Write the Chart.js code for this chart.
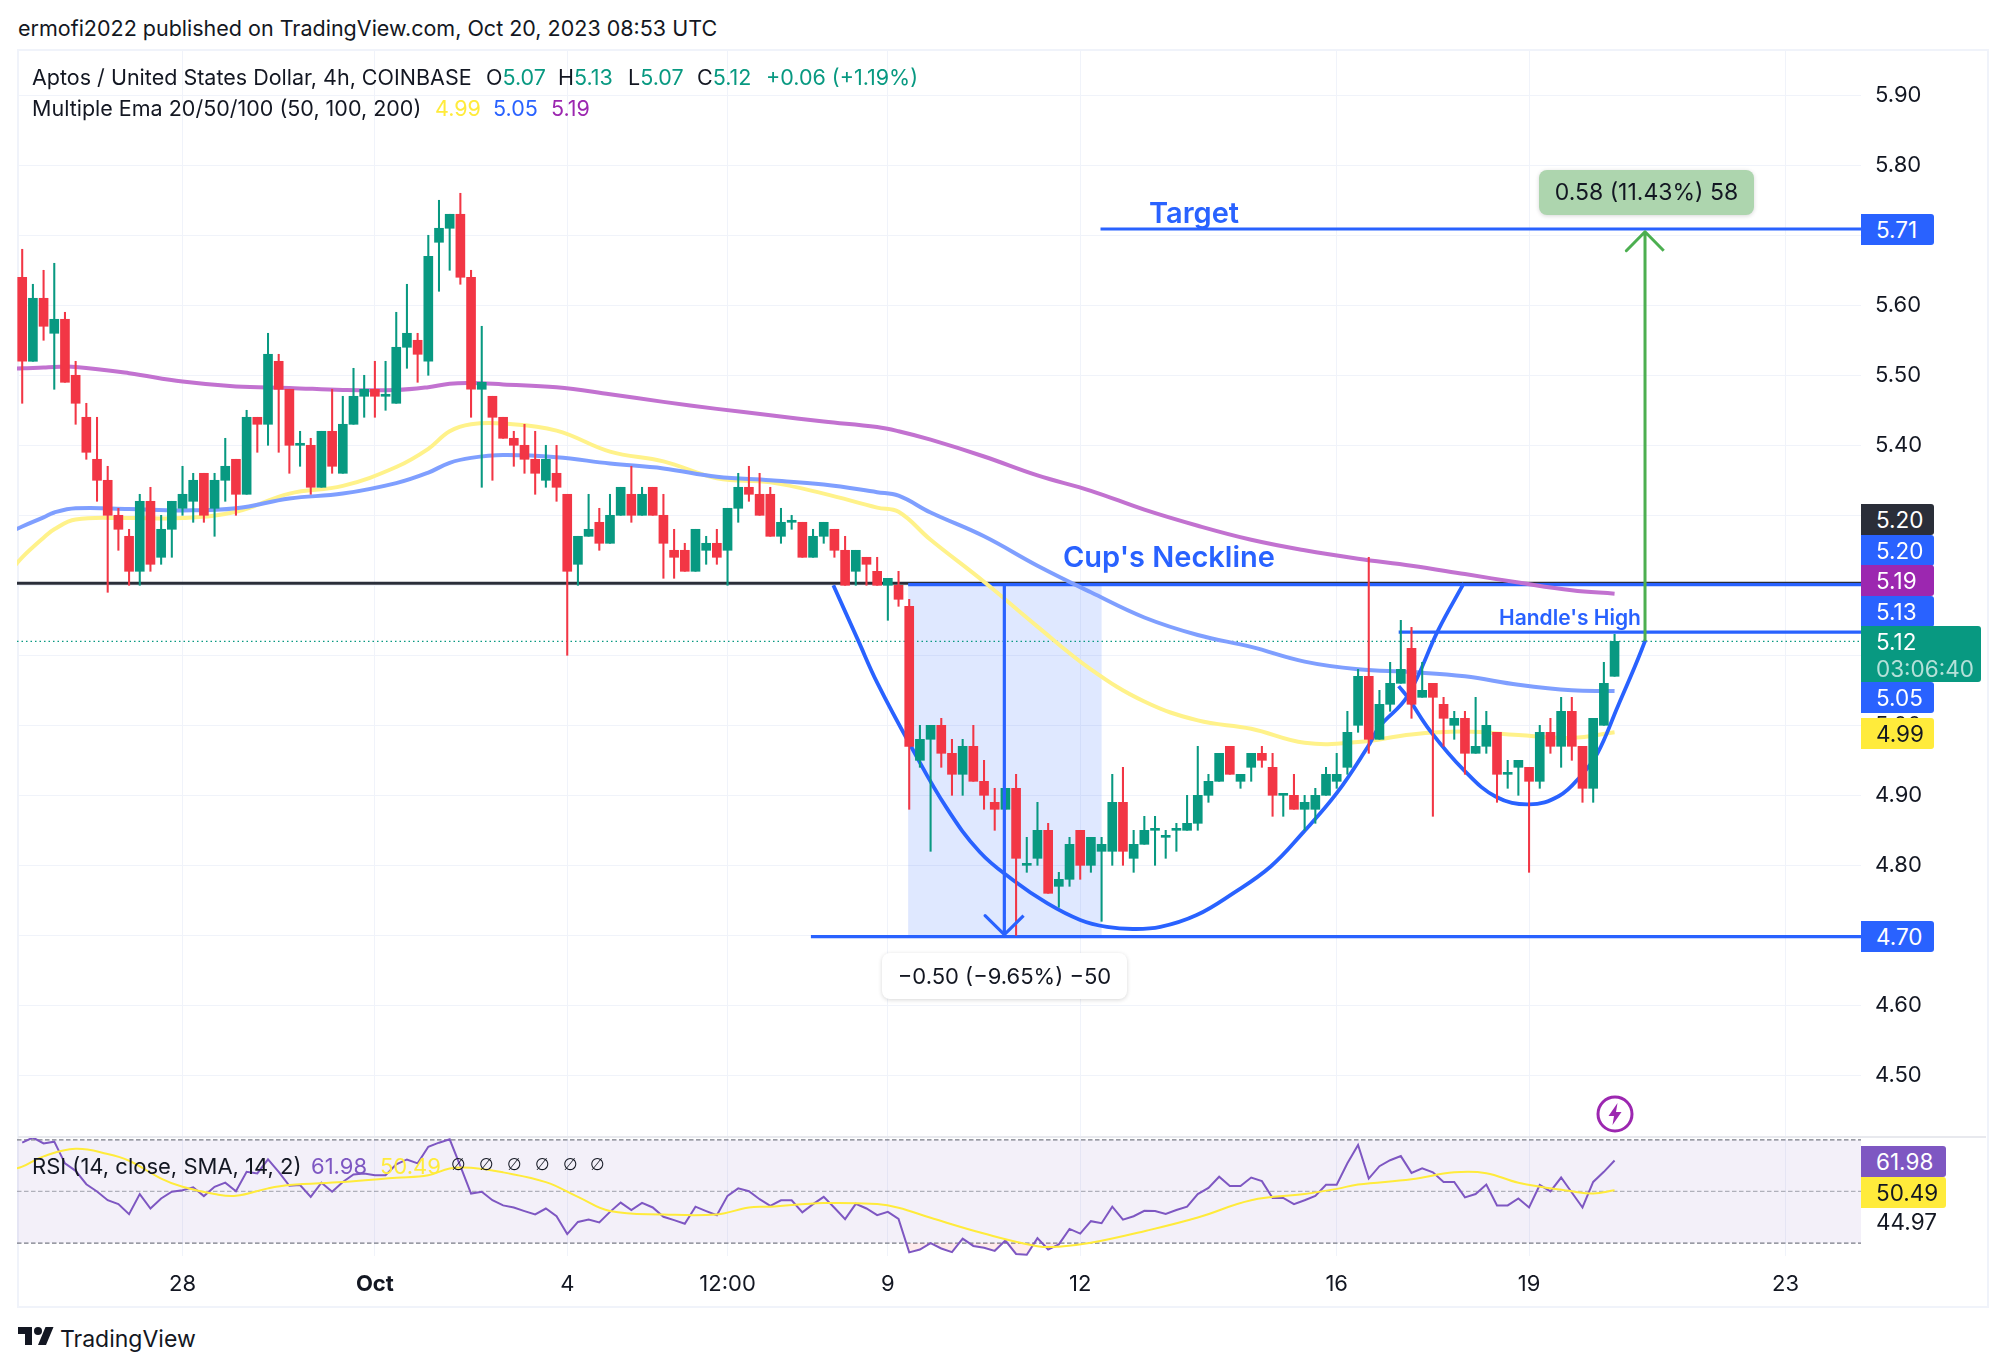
<!DOCTYPE html>
<html>
<head>
<meta charset="utf-8">
<title>Aptos / United States Dollar</title>
<script src="https://cdn.jsdelivr.net/npm/chart.js@4"></script>
<style>
    html, body { margin: 0; padding: 0; background: #fff; }
    body { width: 2004px; height: 1369px; position: relative; overflow: hidden; font-family: Inter, sans-serif; color: #131722; }
    .abs { position: absolute; white-space: nowrap; line-height: 1; }
    #frame { position: absolute; left: 17px; top: 49px; width: 1968px; height: 1255px; border: 2px solid #f0f3fa; }
    #sep { position: absolute; left: 18px; top: 1136px; width: 1968px; height: 2px; background: #e8e9ee; }
    #priceBox { position: absolute; left: 17px; top: 49px; width: 1970px; height: 1088px; }
    #rsiBox { position: absolute; left: 17px; top: 1137px; width: 1970px; height: 168px; }
    .legend { font-size: 21.5px; }
    .tag { position: absolute; left: 1861px; width: 73px; height: 31px; line-height: 31px; padding-left: 15px; box-sizing: border-box; font-size: 22.5px; color: #fff; border-radius: 0 3px 3px 0; }
    .box { position: absolute; text-align: center; border-radius: 8px; box-shadow: 0 1px 4px rgba(0,0,0,.16); }
    .note { color: #2962ff; font-weight: 600; }
</style>
</head>
<body>
<div id="frame"></div>
<div id="priceBox"><canvas id="price-chart"></canvas></div>
<div id="rsiBox"><canvas id="rsi-chart"></canvas></div>
<div id="sep"></div>

<div class="abs" style="left:18px;top:18px;font-size:21.5px">ermofi2022 published on TradingView.com, Oct 20, 2023 08:53 UTC</div>

<div class="abs legend" style="left:32px;top:67px">Aptos / United States Dollar, 4h, COINBASE</div>
<div class="abs legend" style="left:486px;top:67px">O<span style="color:#089981">5.07</span></div>
<div class="abs legend" style="left:558px;top:67px">H<span style="color:#089981">5.13</span></div>
<div class="abs legend" style="left:628px;top:67px">L<span style="color:#089981">5.07</span></div>
<div class="abs legend" style="left:697px;top:67px">C<span style="color:#089981">5.12</span></div>
<div class="abs legend" style="left:766px;top:67px;color:#089981">+0.06 (+1.19%)</div>
<div class="abs legend" style="left:32px;top:98px">Multiple Ema 20/50/100 (50, 100, 200)</div>
<div class="abs legend" style="left:435px;top:98px;color:#ffeb3b">4.99</div>
<div class="abs legend" style="left:493px;top:98px;color:#2962ff">5.05</div>
<div class="abs legend" style="left:551px;top:98px;color:#9c27b0">5.19</div>

<div class="abs legend" style="left:32px;top:1155px;font-size:22px">RSI (14, close, SMA, 14, 2)</div>
<div class="abs legend" style="left:311px;top:1155px;font-size:22px;color:#7e57c2">61.98</div>
<div class="abs legend" style="left:380px;top:1155px;font-size:22px;color:#ffeb3b">50.49</div>
<div id="nulls"></div>

<div class="abs note" style="left:1149px;top:198px;font-size:29px">Target</div>
<div class="abs note" style="left:1063px;top:542px;font-size:29px">Cup's Neckline</div>
<div class="abs note" style="left:1499px;top:607px;font-size:21px">Handle's High</div>

<div class="box" style="left:1539px;top:170px;width:215px;height:45px;line-height:45px;background:#add5ae;font-size:23px">0.58 (11.43%) 58</div>
<div class="box" style="left:882px;top:953px;width:245px;height:46px;line-height:46px;background:#fff;font-size:22px">−0.50 (−9.65%) −50</div>

<div id="tags"></div>

<svg class="abs" style="left:1595px;top:1094px" width="40" height="40" viewBox="0 0 40 40">
    <circle cx="20" cy="20" r="17" fill="#fff" stroke="#9c27b0" stroke-width="3"/>
    <path d="M22.5 9 L13.5 22 H19 L17.5 31 L26.5 18 H21 Z" fill="#9c27b0"/>
</svg>

<svg class="abs" style="left:18px;top:1323px" width="36" height="28" viewBox="0 0 36 28">
    <path d="M14 22H7V11H0V4h14v18zM28 22h-8l7.5-18h8L28 22z" fill="#131722"/>
    <circle cx="20" cy="8" r="4" fill="#131722"/>
</svg>
<div class="abs" style="left:60px;top:1328px;font-size:23px">TradingView</div>

<script>
// candles, 4h, Sep 25 12:00 to Oct 20 08:00
const opens = [5.64,5.52,5.61,5.56,5.58,5.50,5.44,5.38,5.35,5.30,5.27,5.22,5.32,5.24,5.28,5.31,5.32,5.36,5.31,5.35,
    5.38,5.33,5.44,5.43,5.52,5.48,5.40,5.40,5.34,5.42,5.36,5.43,5.47,5.48,5.47,5.46,5.54,5.55,5.52,5.69,
    5.71,5.73,5.64,5.48,5.47,5.44,5.41,5.40,5.38,5.35,5.36,5.33,5.23,5.27,5.29,5.26,5.30,5.33,5.30,5.34,
    5.30,5.25,5.25,5.22,5.25,5.26,5.25,5.31,5.34,5.33,5.33,5.27,5.29,5.29,5.24,5.27,5.28,5.25,5.22,5.24,
    5.22,5.20,5.20,5.17,4.95,4.98,5.00,4.96,4.93,4.97,4.92,4.89,4.88,4.91,4.80,4.81,4.85,4.77,4.78,4.85,
    4.80,4.82,4.82,4.89,4.81,4.83,4.85,4.84,4.85,4.85,4.86,4.90,4.92,4.97,4.92,4.94,4.96,4.94,4.90,4.90,
    4.88,4.88,4.90,4.92,4.94,5.00,5.07,4.98,5.03,5.06,5.11,5.04,5.06,5.03,5.00,5.01,4.96,4.97,4.99,4.93,
    4.94,4.94,4.92,4.99,4.97,5.02,4.97,4.91,5.00,5.07];
const highs = [5.68,5.63,5.65,5.66,5.59,5.52,5.46,5.44,5.37,5.31,5.28,5.33,5.34,5.30,5.32,5.37,5.36,5.36,5.36,5.41,
    5.38,5.45,5.44,5.56,5.53,5.48,5.42,5.41,5.42,5.48,5.47,5.51,5.50,5.52,5.52,5.59,5.63,5.56,5.70,5.75,
    5.73,5.76,5.65,5.57,5.47,5.44,5.42,5.43,5.42,5.40,5.40,5.33,5.27,5.33,5.31,5.33,5.34,5.37,5.34,5.34,
    5.33,5.28,5.26,5.28,5.27,5.28,5.31,5.36,5.37,5.36,5.34,5.31,5.30,5.29,5.28,5.29,5.28,5.27,5.25,5.24,
    5.24,5.21,5.22,5.18,5.00,5.00,5.01,4.98,4.98,5.00,4.95,4.91,4.91,4.93,4.84,4.89,4.86,4.79,4.84,4.85,
    4.84,4.84,4.93,4.94,4.85,4.87,4.87,4.85,4.86,4.90,4.97,4.93,4.96,4.97,4.93,4.96,4.97,4.96,4.90,4.93,
    4.90,4.91,4.94,4.96,5.02,5.08,5.24,5.05,5.09,5.15,5.14,5.09,5.06,5.04,5.02,5.02,5.04,5.02,4.99,4.95,
    4.95,4.94,5.00,5.01,5.04,5.04,4.97,5.01,5.09,5.13];
const lows = [5.46,5.52,5.55,5.48,5.49,5.43,5.38,5.32,5.19,5.25,5.20,5.20,5.22,5.23,5.24,5.30,5.29,5.29,5.27,5.32,
    5.30,5.33,5.39,5.40,5.39,5.36,5.37,5.33,5.34,5.36,5.36,5.43,5.44,5.44,5.45,5.46,5.51,5.49,5.50,5.62,
    5.65,5.63,5.44,5.34,5.35,5.41,5.37,5.36,5.33,5.34,5.32,5.10,5.20,5.27,5.25,5.26,5.30,5.29,5.30,5.30,
    5.21,5.21,5.22,5.22,5.23,5.23,5.20,5.29,5.32,5.30,5.27,5.26,5.28,5.24,5.24,5.26,5.24,5.20,5.20,5.20,
    5.20,5.15,5.17,4.88,4.94,4.82,4.94,4.90,4.90,4.92,4.88,4.85,4.88,4.70,4.79,4.80,4.76,4.74,4.77,4.78,
    4.79,4.72,4.80,4.80,4.79,4.83,4.80,4.81,4.82,4.85,4.85,4.89,4.92,4.93,4.91,4.92,4.94,4.87,4.87,4.88,
    4.85,4.86,4.90,4.91,4.93,4.99,4.96,4.98,5.02,5.06,5.01,5.04,4.87,4.97,4.98,4.93,4.96,4.96,4.89,4.91,
    4.90,4.79,4.91,4.96,4.94,4.95,4.89,4.89,5.00,5.07];
const closes = [5.52,5.61,5.57,5.58,5.49,5.46,5.39,5.35,5.30,5.28,5.22,5.32,5.23,5.28,5.32,5.33,5.35,5.30,5.35,5.37,
    5.33,5.44,5.43,5.53,5.48,5.40,5.40,5.34,5.42,5.37,5.43,5.47,5.48,5.47,5.47,5.54,5.56,5.53,5.67,5.71,
    5.73,5.64,5.48,5.49,5.44,5.41,5.40,5.38,5.36,5.38,5.34,5.22,5.27,5.28,5.26,5.30,5.34,5.30,5.33,5.30,
    5.26,5.24,5.22,5.28,5.26,5.24,5.31,5.34,5.33,5.30,5.27,5.29,5.29,5.24,5.27,5.29,5.25,5.20,5.25,5.23,
    5.20,5.21,5.18,4.97,4.98,5.00,4.96,4.93,4.97,4.92,4.90,4.88,4.91,4.81,4.80,4.85,4.76,4.78,4.83,4.80,
    4.84,4.83,4.89,4.82,4.83,4.85,4.85,4.84,4.85,4.86,4.90,4.92,4.96,4.93,4.93,4.96,4.95,4.90,4.90,4.88,
    4.89,4.90,4.93,4.93,4.99,5.07,4.98,5.03,5.06,5.08,5.03,5.05,5.04,5.01,5.01,4.96,4.97,5.00,4.93,4.93,
    4.95,4.92,4.99,4.97,5.02,4.97,4.91,5.01,5.06,5.12];

const emaIdx = [-1,0,2,3,5,10,15,20,25,30,35,38,40,42,45,50,55,60,65,70,75,80,82,85,90,95,100,105,110,115,120,125,130,135,140,145,149];
const emaYellow = [5.222,5.240,5.268,5.280,5.294,5.296,5.296,5.305,5.331,5.342,5.369,5.395,5.420,5.430,5.431,5.421,5.391,5.377,5.353,5.347,
    5.331,5.311,5.305,5.265,5.205,5.141,5.080,5.034,5.007,4.995,4.975,4.976,4.987,4.991,4.986,4.982,4.990];
const emaBlue = [5.277,5.284,5.297,5.304,5.310,5.309,5.307,5.310,5.324,5.331,5.346,5.361,5.375,5.382,5.386,5.383,5.374,5.367,5.355,5.350,
    5.344,5.333,5.328,5.304,5.270,5.228,5.190,5.154,5.129,5.112,5.091,5.080,5.076,5.070,5.058,5.050,5.049];
const emaPurple = [5.509,5.510,5.511,5.512,5.512,5.503,5.491,5.484,5.482,5.479,5.479,5.483,5.488,5.489,5.487,5.483,5.473,5.462,5.452,5.443,
    5.434,5.426,5.420,5.408,5.384,5.357,5.335,5.308,5.285,5.265,5.250,5.238,5.228,5.216,5.204,5.193,5.188];

// RSI per candle
const rsiValues = [68.9,70.9,68.6,69.3,60.9,58.0,52.8,50.0,46.6,45.1,41.2,49.0,43.4,47.3,49.9,50.5,51.6,48.2,51.8,53.4,
    50.1,57.6,57.0,62.4,57.6,52.2,52.5,47.9,53.4,49.9,53.7,56.6,57.0,56.3,56.3,60.5,62.4,60.9,67.3,68.9,
    70.2,59.8,49.2,49.9,46.6,44.6,43.8,42.4,41.1,43.4,40.4,33.5,38.2,39.1,38.0,42.1,45.7,42.8,45.6,43.8,
    40.2,38.9,37.5,44.1,42.4,40.8,48.3,51.2,50.1,47.0,44.4,46.6,46.6,41.9,45.1,47.9,43.7,39.3,45.2,43.4,
    40.8,42.1,39.4,26.4,27.5,30.0,27.9,26.5,31.7,28.9,28.2,27.0,31.0,25.8,25.5,31.9,27.5,29.5,35.5,33.7,
    38.5,37.7,44.1,39.1,40.4,42.5,42.4,41.3,42.8,44.1,49.0,51.4,55.7,52.1,52.1,55.4,54.0,47.5,47.5,45.1,
    46.6,48.3,52.6,52.6,60.9,68.0,55.0,59.8,62.1,63.7,57.2,59.0,57.4,53.7,53.7,47.7,49.0,52.7,44.6,44.6,
    47.3,43.8,52.5,50.0,55.4,49.6,43.8,53.7,57.6,61.98];
const rsiMaIdx = [-1,0,2,5,8,10,13,15,18,20,23,25,30,35,38,40,42,45,49,52,55,60,65,68,70,75,80,82,85,90,95,97,100,105,110,115,120,123,125,130,134,137,140,145,147,149];
const rsiMa = [58.5,59.6,63.6,66.5,64.5,61.9,55.0,51.8,49.0,48.3,51.2,52.5,53.7,55.3,56.3,58.9,59.2,57.4,53.6,47.9,42.4,41.1,41.1,43.8,44.1,45.5,
    45.1,43.7,39.8,33.7,28.8,28.6,30.1,34.6,39.9,46.6,49.0,51.0,52.7,54.7,57.4,57.1,53.4,50.1,49.2,50.49];

// time axis
const timeTickIdx = [15,33,51,66,81,99,123,141,165];
const timeTickLabels = ['28','Oct','4','12:00','9','12','16','19','23'];
const priceTicks = [4.5,4.6,4.7,4.8,4.9,5.0,5.1,5.2,5.3,5.4,5.5,5.6,5.7,5.8,5.9];

// drawings on the chart, candle number + price
const cupIdx = [75.9,78.2,80.0,83.2,86.5,89.6,92.7,95.9,99.0,101.5,103.9,106.5,109.9,113.3,116.8,119.8,123.0,125.9,127.0,129.6,132.5,134.9];
const cupPrice = [5.20,5.122,5.061,4.969,4.882,4.819,4.779,4.746,4.722,4.712,4.709,4.712,4.729,4.760,4.798,4.846,4.903,4.969,4.998,5.041,5.136,5.203];
const handleIdx = [128.8,129.6,131.8,134.9,137.9,141.0,143.8,145.8,147.4,149.3,150.9,151.9];
const handlePrice = [5.056,5.041,4.991,4.936,4.898,4.887,4.899,4.927,4.96,5.027,5.084,5.122];
const downArrowIdx = [91.9,91.9,90.1,91.9,93.7];
const downArrowPrice = [5.20,4.701,4.728,4.701,4.728];
const upArrowIdx = [151.85,151.85,150.1,151.85,153.6];
const upArrowPrice = [5.12,5.705,5.678,5.705,5.678];

const X_MIN = -0.487;
const X_MAX = 172.06;

const UP = '#089981';
const DOWN = '#f23645';
const BLUE = '#2962ff';

function pts(xs, ys) {
    return xs.map((x, i) => ({x: x, y: ys[i]}));
}

function hLine(price, fromIdx, color, width, order, dash) {
    return {
        type: 'line',
        data: [{x: fromIdx, y: price}, {x: X_MAX, y: price}],
        borderColor: color,
        borderWidth: width,
        borderDash: dash || [],
        pointRadius: 0,
        order: order
    };
}

function pathLine(xs, ys, color, width, order, smooth) {
    return {
        type: 'line',
        data: pts(xs, ys),
        borderColor: color,
        borderWidth: width,
        pointRadius: 0,
        tension: smooth ? 0.4 : 0,
        borderJoinStyle: 'round',
        order: order
    };
}

// grid ticks on the shared candle-number axis
function timeAxis(showLabels) {
    return {
        type: 'linear',
        min: X_MIN,
        max: X_MAX,
        offset: false,
        afterBuildTicks: scale => { scale.ticks = timeTickIdx.map(v => ({value: v})); },
        afterFit: scale => {
            scale.height = showLabels ? 49 : 0;
            scale.paddingLeft = 0;
            scale.paddingRight = 0;
        },
        grid: {color: '#f0f3fa', lineWidth: 1, offset: false, drawTicks: false},
        border: {display: false},
        ticks: {
            display: showLabels,
            autoSkip: false,
            maxRotation: 0,
            padding: 15,
            color: '#131722',
            font: ctx => ({
                family: 'Inter',
                size: 22,
                weight: ctx.tick && ctx.tick.value === 33 ? '700' : '400'
            }),
            callback: value => timeTickLabels[timeTickIdx.indexOf(value)]
        }
    };
}

// pattern rectangle sits under the candles
const rectPlugin = {
    id: 'rectPlugin',
    beforeDatasetsDraw(chart) {
        const {ctx, scales: {x, y}} = chart;
        const left = x.getPixelForValue(82.9);
        const right = x.getPixelForValue(101.0);
        const top = y.getPixelForValue(5.20);
        const bottom = y.getPixelForValue(4.70);
        ctx.save();
        ctx.fillStyle = 'rgba(41,98,255,0.15)';
        ctx.fillRect(left, top, right - left, bottom - top);
        ctx.restore();
    }
};

// RSI background band
const bandPlugin = {
    id: 'bandPlugin',
    beforeDatasetsDraw(chart) {
        const {ctx, chartArea, scales: {y}} = chart;
        ctx.save();
        ctx.fillStyle = 'rgba(126,87,194,0.09)';
        ctx.fillRect(chartArea.left, y.getPixelForValue(70), chartArea.width, y.getPixelForValue(30) - y.getPixelForValue(70));
        ctx.restore();
    }
};

// Price chart
new Chart(document.getElementById('price-chart'), {
    type: 'bar',
    plugins: [rectPlugin],
    data: {
        datasets: [
            {
                label: 'bodies',
                data: opens.map((o, i) => ({x: i, y: [o, closes[i]]})),
                backgroundColor: opens.map((o, i) => closes[i] >= o ? UP : DOWN),
                barThickness: 9,
                minBarLength: 2,
                grouped: false,
                order: 2
            },
            {
                label: 'wicks',
                data: lows.map((l, i) => ({x: i, y: [l, highs[i]]})),
                backgroundColor: opens.map((o, i) => closes[i] >= o ? UP : DOWN),
                barThickness: 1.4,
                grouped: false,
                order: 3
            },
            pathLine(downArrowIdx, downArrowPrice, BLUE, 3.2, 1, false),
            pathLine(upArrowIdx, upArrowPrice, '#4caf50', 3, 1, false),
            pathLine(cupIdx, cupPrice, BLUE, 3.8, 4, true),
            pathLine(handleIdx, handlePrice, BLUE, 3.8, 4, true),
            pathLine(emaIdx, emaPurple, '#c272d0', 4, 5, true),
            pathLine(emaIdx, emaBlue, '#7f9fff', 4, 5, true),
            pathLine(emaIdx, emaYellow, '#fff28a', 4, 5, true),
            hLine(5.201, 82.9, BLUE, 3.2, 6),
            hLine(5.709, 100.9, BLUE, 3.2, 6),
            hLine(5.133, 128.8, BLUE, 3.2, 6),
            hLine(4.698, 73.8, BLUE, 3.2, 6),
            hLine(5.203, X_MIN, '#2a2e39', 3, 7),
            hLine(5.12, X_MIN, UP, 1.2, 8, [1.5, 3])
        ]
    },
    options: {
        responsive: true,
        maintainAspectRatio: false,
        animation: false,
        layout: {padding: 0},
        plugins: {legend: {display: false}, tooltip: {enabled: false}},
        scales: {
            x: timeAxis(false),
            y: {
                position: 'right',
                min: 4.4119,
                max: 5.9661,
                afterBuildTicks: scale => { scale.ticks = priceTicks.map(v => ({value: v})); },
                afterFit: scale => {
                    scale.width = 126;
                    scale.paddingTop = 0;
                    scale.paddingBottom = 0;
                },
                grid: {color: '#f0f3fa', lineWidth: 1, drawTicks: false},
                border: {display: false},
                ticks: {
                    color: '#131722',
                    padding: 14,
                    font: {family: 'Inter', size: 22},
                    callback: value => value.toFixed(2)
                }
            }
        }
    }
});

// RSI pane
const rsiLines = [70, 50, 30].map((v, i) => hLine(v, X_MIN, i === 1 ? 'rgba(120,123,134,0.55)' : '#787b86', 1.2, 3, [4.5, 2.5]));

new Chart(document.getElementById('rsi-chart'), {
    type: 'line',
    plugins: [bandPlugin],
    data: {
        datasets: [
            {
                data: rsiValues.map((v, i) => ({x: i, y: v})),
                borderColor: '#7e57c2',
                borderWidth: 2,
                pointRadius: 0,
                fill: {target: {value: 30}, above: 'transparent', below: 'rgba(242,54,69,0.1)'},
                order: 2
            },
            pathLine(rsiMaIdx, rsiMa, '#ffeb3b', 2, 1, true),
            ...rsiLines
        ]
    },
    options: {
        responsive: true,
        maintainAspectRatio: false,
        animation: false,
        layout: {padding: 0},
        plugins: {legend: {display: false}, tooltip: {enabled: false}},
        scales: {
            x: timeAxis(true),
            y: {
                position: 'right',
                min: 25.0,
                max: 71.1,
                afterFit: scale => { scale.width = 126; },
                grid: {display: false},
                border: {display: false},
                ticks: {display: false}
            }
        }
    }
});

// price tags on the right
const tags = [
    ['5.71', 214, BLUE, '#fff'],
    ['5.20', 504, '#2a2e39', '#fff'],
    ['5.20', 535, BLUE, '#fff'],
    ['5.19', 565, '#9c27b0', '#fff'],
    ['5.13', 596, BLUE, '#fff'],
    ['5.05', 682, BLUE, '#fff'],
    ['4.99', 718, '#ffeb3b', '#131722'],
    ['4.70', 921, BLUE, '#fff']
];
const tagBox = document.getElementById('tags');
tags.forEach(t => {
    const el = document.createElement('div');
    el.className = 'tag';
    el.style.top = t[1] + 'px';
    el.style.background = t[2];
    el.style.color = t[3];
    el.textContent = t[0];
    tagBox.appendChild(el);
});

const last = document.createElement('div');
last.className = 'tag';
last.style.cssText = 'top:626px;width:120px;height:56px;background:#089981;line-height:1;';
last.innerHTML = '<div style="margin-top:5px">5.12</div><div style="margin-top:4px;color:rgba(255,255,255,.7)">03:06:40</div>';
tagBox.appendChild(last);

const rsiTags = [['61.98', 1146, '#7e57c2', '#fff'], ['50.49', 1177, '#ffeb3b', '#131722']];
rsiTags.forEach(t => {
    const el = document.createElement('div');
    el.className = 'tag';
    el.style.top = t[1] + 'px';
    el.style.width = '85px';
    el.style.background = t[2];
    el.style.color = t[3];
    el.textContent = t[0];
    tagBox.appendChild(el);
});
const rsiOther = document.createElement('div');
rsiOther.className = 'abs';
rsiOther.style.cssText = 'left:1876px;top:1211px;font-size:22.5px';
rsiOther.textContent = '44.97';
tagBox.appendChild(rsiOther);

// the six empty plots of the RSI legend
const nullBox = document.getElementById('nulls');
[458, 486, 514, 542, 570, 597].forEach(x => {
    const el = document.createElement('div');
    el.className = 'abs legend';
    el.style.left = (x - 7) + 'px';
    el.style.top = '1156px';
    el.style.fontFamily = 'DejaVu Sans';
    el.style.fontSize = '17px';
    el.textContent = '∅';
    nullBox.appendChild(el);
});
</script>
</body>
</html>
